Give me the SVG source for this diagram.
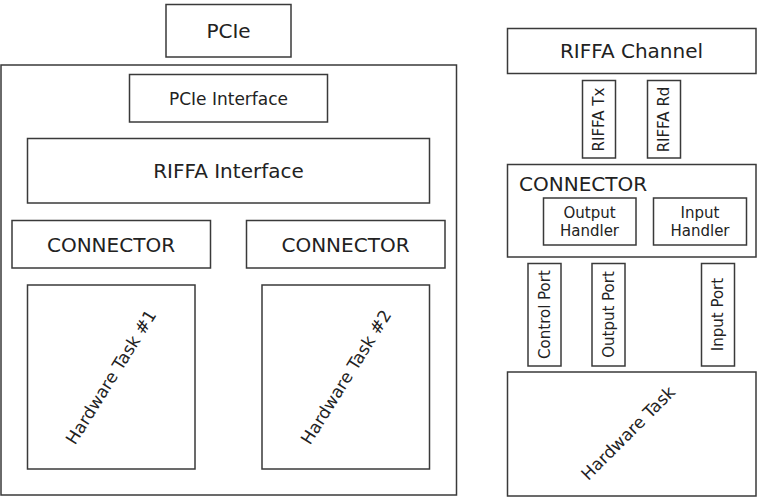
<svg xmlns="http://www.w3.org/2000/svg" width="759" height="497" viewBox="0 0 759 497">
<style>
rect.b{fill:#fff;stroke:#3a3a3a;stroke-width:1.5}
text{font-family:"DejaVu Sans","Liberation Sans",sans-serif;fill:#222;text-anchor:middle;dominant-baseline:central}
.l{font-size:20px}
.m{font-size:17px}
.s{font-size:15px}
</style>
<rect width="759" height="497" fill="#fff"/>
<g id="pcie"><rect class="b" x="166" y="4.5" width="125" height="52.5"/><text class="l" x="228.5" y="31">PCIe</text></g>
<g id="fpga"><rect class="b" x="1" y="65" width="455.5" height="430"/></g>
<g id="pcie-interface"><rect class="b" x="129.5" y="74.5" width="198" height="47.5"/><text class="m" x="228.5" y="98.5">PCIe Interface</text></g>
<g id="riffa-interface"><rect class="b" x="27.5" y="138.5" width="402" height="64.5"/><text class="l" x="228.5" y="171">RIFFA Interface</text></g>
<g id="connector-1"><rect class="b" x="12" y="220.5" width="198.5" height="47.5"/><text class="l" x="111" y="244.5">CONNECTOR</text></g>
<g id="connector-2"><rect class="b" x="246.5" y="220.5" width="198.5" height="47.5"/><text class="l" x="345.5" y="244.5">CONNECTOR</text></g>
<g id="hw-task-1"><rect class="b" x="27.5" y="285" width="167.5" height="184"/><text class="m" x="111" y="377" transform="rotate(-58 111 377)">Hardware Task #1</text></g>
<g id="hw-task-2"><rect class="b" x="262" y="285" width="167.5" height="184"/><text class="m" x="346" y="377" transform="rotate(-58 346 377)">Hardware Task #2</text></g>
<g id="riffa-channel"><rect class="b" x="507.5" y="28.5" width="248.5" height="45"/><text class="l" x="631.5" y="51">RIFFA Channel</text></g>
<g id="riffa-tx"><rect class="b" x="582.5" y="80.5" width="33" height="77.5"/><text class="s" x="599" y="119.5" transform="rotate(-90 599 119.5)">RIFFA Tx</text></g>
<g id="riffa-rd"><rect class="b" x="647.5" y="80.5" width="33" height="77.5"/><text class="s" x="664" y="119.5" transform="rotate(-90 664 119.5)">RIFFA Rd</text></g>
<g id="connector"><rect class="b" x="507.5" y="164.5" width="248.5" height="92.5"/><text class="l" x="519" y="184" style="text-anchor:start">CONNECTOR</text></g>
<g id="output-handler"><rect class="b" x="543.5" y="198" width="92.5" height="47"/><text class="s" x="589.5" y="212.5">Output</text><text class="s" x="589.5" y="231">Handler</text></g>
<g id="input-handler"><rect class="b" x="653.5" y="198" width="93" height="47"/><text class="s" x="700" y="212.5">Input</text><text class="s" x="700" y="231">Handler</text></g>
<g id="control-port"><rect class="b" x="528" y="263.5" width="33" height="102.5"/><text class="s" x="544.5" y="314.5" transform="rotate(-90 544.5 314.5)">Control Port</text></g>
<g id="output-port"><rect class="b" x="592" y="263.5" width="33" height="102.5"/><text class="s" x="608.5" y="314.5" transform="rotate(-90 608.5 314.5)">Output Port</text></g>
<g id="input-port"><rect class="b" x="701.5" y="263.5" width="33" height="102.5"/><text class="s" x="718" y="314.5" transform="rotate(-90 718 314.5)">Input Port</text></g>
<g id="hardware-task"><rect class="b" x="507.5" y="372" width="248.5" height="124"/><text class="m" x="628" y="433" transform="rotate(-45 628 433)">Hardware Task</text></g>
<g id="connectors"/>
</svg>
